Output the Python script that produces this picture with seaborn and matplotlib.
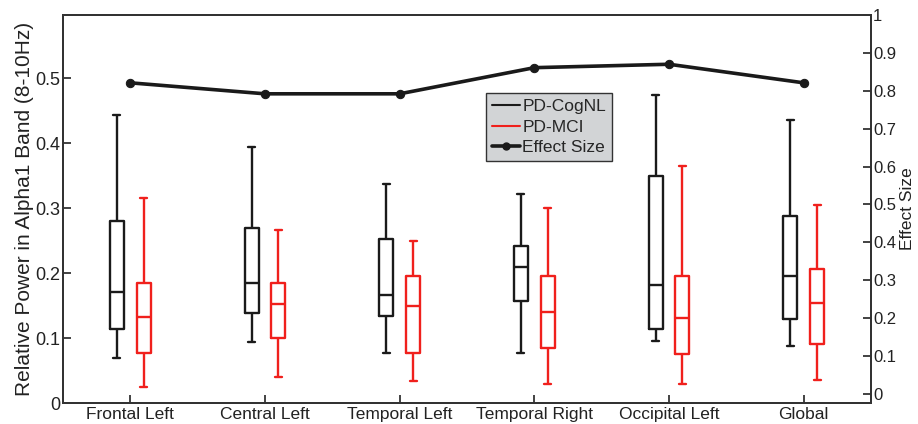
import numpy as np
import pandas as pd
import matplotlib
matplotlib.use("Agg")
import matplotlib.pyplot as plt
from matplotlib.lines import Line2D
import seaborn as sns

# ---- data (five-number summaries: min, Q1, median, Q3, max) ----
regions = ["Frontal Left", "Central Left", "Temporal Left", "Temporal Right", "Occipital Left", "Global"]
groups = ["PD-CogNL", "PD-MCI"]

cognl_stats = [
    [0.070, 0.114, 0.171, 0.280, 0.443],
    [0.094, 0.138, 0.184, 0.269, 0.394],
    [0.077, 0.134, 0.166, 0.252, 0.337],
    [0.077, 0.157, 0.209, 0.241, 0.321],
    [0.095, 0.114, 0.182, 0.349, 0.474],
    [0.088, 0.130, 0.195, 0.287, 0.435],
]
mci_stats = [
    [0.025, 0.077, 0.133, 0.184, 0.316],
    [0.040, 0.100, 0.152, 0.184, 0.266],
    [0.034, 0.077, 0.149, 0.195, 0.250],
    [0.030, 0.085, 0.140, 0.196, 0.300],
    [0.030, 0.076, 0.131, 0.196, 0.364],
    [0.036, 0.091, 0.154, 0.206, 0.305],
]
effect_size = [0.821, 0.792, 0.792, 0.861, 0.870, 0.821]

left_ticks = [0, 0.1, 0.2, 0.3, 0.4, 0.5]
right_ticks = [0, 0.1, 0.2, 0.3, 0.4, 0.5, 0.6, 0.7, 0.8, 0.9, 1]

# ---- build long-form table ----
rows = []
for r, s in zip(regions, cognl_stats):
    for v in s:
        rows.append({"region": r, "group": groups[0], "value": v})
for r, s in zip(regions, mci_stats):
    for v in s:
        rows.append({"region": r, "group": groups[1], "value": v})
df = pd.DataFrame(rows)

sns.set_theme(style="white")
plt.rcParams["font.family"] = ["Liberation Sans", "DejaVu Sans"]

W, H = 918, 424
fig = plt.figure(figsize=(W / 100, H / 100), dpi=100)
L, R, T, B = 63, 871, 15, 403
ax = fig.add_axes([L / W, (H - B) / H, (R - L) / W, (B - T) / H])

black = "#1a1a1a"
red = "#f0201c"
palette = {groups[0]: black, groups[1]: red}

sns.boxplot(data=df, x="region", y="value", hue="group", order=regions, hue_order=groups,
            palette=palette, fill=False, width=0.4, gap=0.48, whis=np.inf,
            linewidth=1.7, legend=False, ax=ax)

ax.set_xlim(-0.5, 5.5)
ax.set_ylim(0, 0.597)
ax.set_yticks(left_ticks)
ax.set_yticklabels(["0", "0.1", "0.2", "0.3", "0.4", "0.5"])
ax.set_xlabel("")
ax.set_ylabel("Relative Power in Alpha1 Band (8-10Hz)", fontsize=15, color="#222222")
ax.yaxis.set_label_coords(-0.036, 0.5)
ax.tick_params(axis="y", direction="in", length=6, width=1.2, labelsize=13, pad=2,
               colors="#222222", left=True, right=False)
ax.tick_params(axis="x", direction="in", length=6, width=1.2, labelsize=12.5, pad=3,
               colors="#222222", bottom=True, top=False)
for sp in ax.spines.values():
    sp.set_color("#333333")
    sp.set_linewidth(1.4)

# ---- effect size on right axis ----
ax2 = ax.twinx()
sns.lineplot(x=np.arange(len(regions)), y=effect_size, ax=ax2, color=black, linewidth=2.6,
             marker="o", markersize=6, markeredgecolor=black)
ax2.set_ylim(-0.024, 1.0)
ax2.set_yticks(right_ticks)
ax2.set_yticklabels(["0", "0.1", "0.2", "0.3", "0.4", "0.5", "0.6", "0.7", "0.8", "0.9", "1"])
ax2.tick_params(axis="y", direction="in", length=6, width=1.2, labelsize=12, pad=1.5,
                colors="#222222")
ax2.set_ylabel("Effect Size", fontsize=12.5, color="#222222")
ax2.yaxis.set_label_coords(1.0355, 0.5)
for sp in ax2.spines.values():
    sp.set_color("#333333")
    sp.set_linewidth(1.4)
ax2.set_xlim(-0.5, 5.5)

# ---- legend ----
handles = [
    Line2D([], [], color=black, linewidth=1.5),
    Line2D([], [], color=red, linewidth=1.5),
    Line2D([], [], color=black, linewidth=2.6, marker="o", markersize=5),
]
leg = ax2.legend(handles, ["PD-CogNL", "PD-MCI", "Effect Size"],
                 loc="upper left", bbox_to_anchor=((486 - L) / (R - L), (B - 93) / (B - T)),
                 borderaxespad=0, fontsize=12.5, frameon=True, fancybox=False,
                 handlelength=1.6, handletextpad=0.15, labelspacing=0.3, borderpad=0.35)
leg.get_frame().set_facecolor("#d2d4d6")
leg.get_frame().set_edgecolor("#333333")
leg.get_frame().set_linewidth(1.0)
leg.get_frame().set_alpha(1)

fig.savefig("out.png", dpi=100, facecolor="white")
